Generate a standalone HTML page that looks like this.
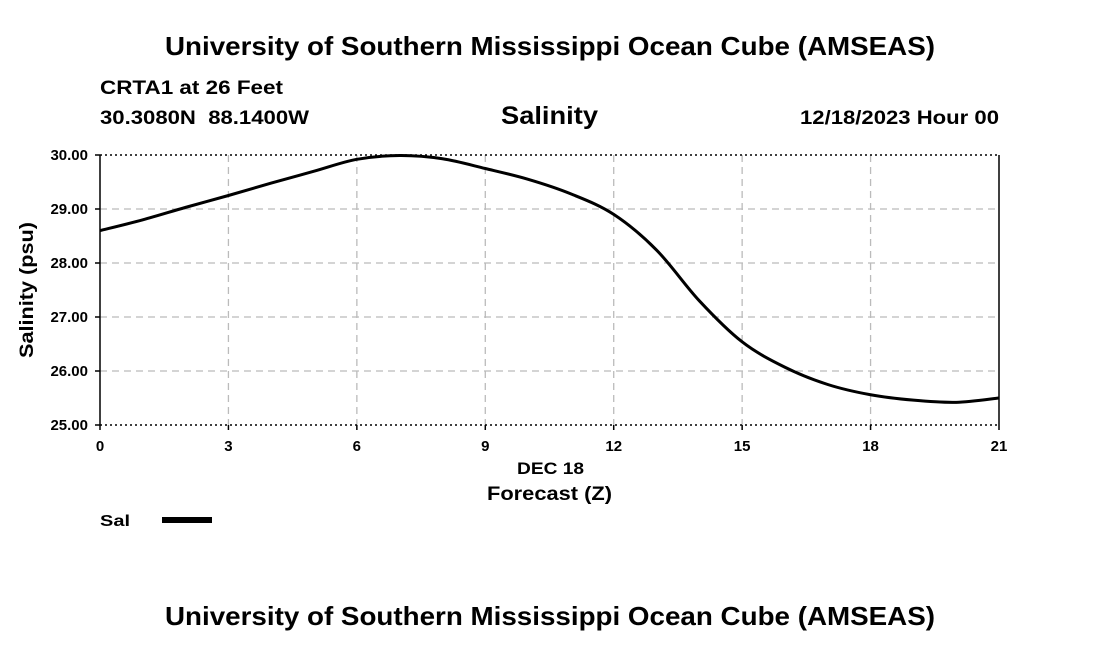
<!DOCTYPE html>
<html><head><meta charset="utf-8"><style>
body{margin:0;background:#fff;}
svg text{font-family:"Liberation Sans",Arial,sans-serif;font-weight:bold;fill:#000;}
</style></head><body>
<svg width="1100" height="650" viewBox="0 0 1100 650">
<text x="165" y="55" font-size="26" textLength="770" lengthAdjust="spacingAndGlyphs">University of Southern Mississippi Ocean Cube (AMSEAS)</text>
<text x="100" y="94" font-size="19" textLength="183" lengthAdjust="spacingAndGlyphs">CRTA1 at 26 Feet</text>
<text x="100" y="124" font-size="19" textLength="209" lengthAdjust="spacingAndGlyphs" xml:space="preserve">30.3080N  88.1400W</text>
<text x="501" y="124" font-size="25" textLength="97" lengthAdjust="spacingAndGlyphs">Salinity</text>
<text x="800" y="124" font-size="19" textLength="199" lengthAdjust="spacingAndGlyphs">12/18/2023 Hour 00</text>
<g id="grid"></g>
<g id="axes"></g>
<path id="line" fill="none" stroke="#000" stroke-width="3"/>
<text x="517" y="474" font-size="17" textLength="67" lengthAdjust="spacingAndGlyphs">DEC 18</text>
<text x="487" y="500" font-size="19" textLength="125" lengthAdjust="spacingAndGlyphs">Forecast (Z)</text>
<text transform="translate(33,358) rotate(-90)" font-size="19" textLength="136" lengthAdjust="spacingAndGlyphs">Salinity (psu)</text>
<text x="100" y="526" font-size="16" textLength="30" lengthAdjust="spacingAndGlyphs">Sal</text>
<rect x="162" y="517" width="50" height="6" fill="#000"/>
<text x="165" y="625" font-size="26" textLength="770" lengthAdjust="spacingAndGlyphs">University of Southern Mississippi Ocean Cube (AMSEAS)</text>
</svg>
<script>
const hours=[0,1,2,3,4,5,6,7,8,9,10,11,12,13,14,15,16,17,18,19,20,21];
const salinity=[28.6,28.8,29.03,29.25,29.48,29.7,29.92,29.99,29.93,29.75,29.55,29.28,28.9,28.24,27.3,26.54,26.07,25.75,25.56,25.46,25.42,25.5];
const xTicks=[0,3,6,9,12,15,18,21];
const yTicks=[25,26,27,28,29,30];
const X0=100,X1=999,Y0=425,Y1=155;
const xs=v=>X0+(v-0)/21*(X1-X0);
const ys=v=>Y0-(v-25)/5*(Y0-Y1);
const NS="http://www.w3.org/2000/svg";
const grid=document.getElementById('grid'),axes=document.getElementById('axes');
function mk(tag,at,parent){const e=document.createElementNS(NS,tag);for(const k in at)e.setAttribute(k,at[k]);parent.appendChild(e);return e;}
xTicks.forEach(t=>{
 const x=xs(t);
 if(t>0&&t<21){const l=mk('line',{x1:x,x2:x,y1:Y1,y2:Y0,stroke:'#bbb','stroke-width':1.3,'stroke-dasharray':'7,5'},grid);
 
 }
 const tk=mk('line',{x1:x,x2:x,y1:Y0,y2:Y0+5,stroke:'#000','stroke-width':1.5},axes);
 
 
 const tx=mk('text',{x:x,y:Y0+26,'text-anchor':'middle','font-size':15},axes);tx.textContent=t;
 
 
});
yTicks.forEach(t=>{
 const y=ys(t);
 const edge=(t===25||t===30);
 const l=mk('line',{x1:X0,x2:X1,y1:y,y2:y,stroke:edge?'#000':'#bbb','stroke-width':edge?1.5:1.3,'stroke-dasharray':edge?'2,3':'7,5'},grid);
 
 
 const tk=mk('line',{x1:X0-5,x2:X0,y1:y,y2:y,stroke:'#000','stroke-width':1.5},axes);
 
 
 const tx=mk('text',{x:X0-12,y:y+5,'text-anchor':'end','font-size':15},axes);tx.textContent=t.toFixed(2);
 
 
});
[X0,X1].forEach(x=>{const l=mk('line',{x1:x,x2:x,y1:Y1,y2:Y0,stroke:'#000','stroke-width':1.5},axes);
 
 });
const P=hours.map((h,i)=>[xs(h),ys(salinity[i])]);
let d='M'+P[0][0]+','+P[0][1];
for(let i=0;i<P.length-1;i++){
 const p0=P[Math.max(0,i-1)],p1=P[i],p2=P[i+1],p3=P[Math.min(P.length-1,i+2)];
 const c1=[p1[0]+(p2[0]-p0[0])/6,p1[1]+(p2[1]-p0[1])/6],c2=[p2[0]-(p3[0]-p1[0])/6,p2[1]-(p3[1]-p1[1])/6];
 d+=` C${c1[0]},${c1[1]} ${c2[0]},${c2[1]} ${p2[0]},${p2[1]}`;
}
document.getElementById('line').setAttribute('d',d);
</script>
</body></html>
